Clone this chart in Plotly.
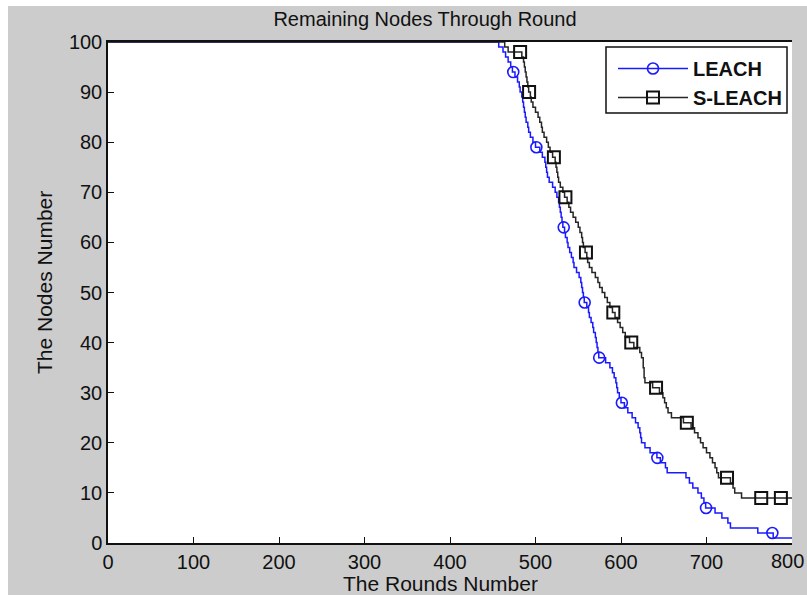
import plotly.graph_objects as go

# ---------------- data ----------------
leach_rounds = [0, 457, 462, 465, 468, 471, 473, 476, 479, 481, 482, 484, 485, 486, 487, 488, 489,
                491, 492, 494, 497, 500, 505, 508, 511, 512, 513, 514, 516, 520, 523, 525, 527,
                528, 529, 530, 531, 532, 534, 535, 537, 538, 540, 542, 544, 545, 548, 551, 553,
                554, 555, 556, 557, 560, 562, 563, 565, 567, 568, 570, 571, 572, 573, 574, 582,
                587, 590, 592, 594, 595, 596, 598, 600, 604, 608, 613, 617, 620, 622, 623, 624,
                628, 634, 642, 646, 652, 654, 676, 680, 684, 690, 694, 697, 699, 710, 718, 725,
                728, 760, 778, 800]
leach_nodes = [100, 99, 98, 97, 96, 95, 94, 93, 92, 91, 90, 89, 88, 87, 86, 85, 84,
               83, 82, 81, 80, 79, 78, 77, 76, 75, 74, 73, 72, 71, 70, 69, 68,
               67, 66, 65, 64, 63, 62, 61, 60, 59, 58, 57, 56, 55, 54, 53, 52,
               51, 50, 49, 48, 47, 46, 45, 44, 43, 42, 41, 40, 39, 38, 37, 36,
               35, 34, 33, 32, 31, 30, 29, 28, 27, 26, 25, 24, 23, 22, 21, 20,
               19, 18, 17, 16, 15, 14, 13, 12, 11, 10, 9, 8, 7, 6, 5, 4,
               3, 2, 1, 1]
leach_marker_rounds = [474, 501, 533, 557.5, 574.5, 601, 642.5, 699.5, 777]
leach_marker_nodes = [94, 79, 63, 48, 37, 28, 17, 7, 2]

sleach_rounds = [0, 464, 468, 484, 486, 487, 488, 489, 490, 491, 492, 494, 495, 497, 500, 503, 505,
                 507, 508, 510, 513, 515, 517, 520, 523, 524, 525, 526, 527, 529, 532, 534, 537,
                 539, 541, 544, 547, 550, 552, 554, 555, 556, 558, 560, 561, 563, 566, 570, 573,
                 575, 578, 581, 584, 587, 590, 593, 596, 599, 602, 605, 610, 615, 622, 624, 626,
                 626, 627, 627, 628, 637, 645, 649, 651, 653, 655, 659, 673, 682, 686, 690, 693,
                 696, 700, 704, 707, 710, 712, 714, 728, 731, 733, 741, 800]
sleach_nodes = [100, 99, 98, 97, 96, 95, 94, 93, 92, 91, 90, 89, 88, 87, 86, 85, 84,
                83, 82, 81, 80, 79, 78, 77, 76, 75, 74, 73, 72, 71, 70, 69, 68,
                67, 66, 65, 64, 63, 62, 61, 60, 59, 58, 57, 56, 55, 54, 53, 52,
                51, 50, 49, 48, 47, 46, 45, 44, 43, 42, 41, 40, 39, 38, 37, 36,
                35, 34, 33, 32, 31, 30, 29, 28, 27, 26, 25, 24, 23, 22, 21, 20,
                19, 18, 17, 16, 15, 14, 13, 12, 11, 10, 9, 9]
sleach_marker_rounds = [482, 492.5, 521.5, 535, 559, 591, 612, 641, 677, 724, 764, 787]
sleach_marker_nodes = [98, 90, 77, 69, 58, 46, 40, 31, 24, 13, 9, 9]

series_names = ["LEACH", "S-LEACH"]
x_ticks = [0, 100, 200, 300, 400, 500, 600, 700, 800]
y_ticks = [0, 10, 20, 30, 40, 50, 60, 70, 80, 90, 100]
chart_title = "Remaining Nodes Through Round"
x_title = "The Rounds Number"
y_title = "The Nodes Number"


def merge(rx, ry, mx, my):
    """Put the marker points into the step line; returns x, y and the indices of marker points."""
    pts = [(x, y, False) for x, y in zip(rx, ry)] + [(x, y, True) for x, y in zip(mx, my)]
    pts.sort(key=lambda p: (p[0], -p[1]))
    return ([p[0] for p in pts], [p[1] for p in pts], [i for i, p in enumerate(pts) if p[2]])


FONT = "Liberation Sans, Arial, sans-serif"
INK = "#111111"
BLUE = "#1a1aff"
fig = go.Figure()

lx, ly, lsel = merge(leach_rounds, leach_nodes, leach_marker_rounds, leach_marker_nodes)
fig.add_trace(go.Scatter(
    x=lx, y=ly, name=series_names[0], mode="lines+markers", line_shape="hv",
    line=dict(color=BLUE, width=1.5),
    marker=dict(symbol="circle-open", size=11, color=BLUE, opacity=1, line=dict(width=1.6)),
    selectedpoints=lsel, selected=dict(marker=dict(opacity=1)),
    unselected=dict(marker=dict(opacity=0)),
    legendgroup="a"))

sx, sy, ssel = merge(sleach_rounds, sleach_nodes, sleach_marker_rounds, sleach_marker_nodes)
fig.add_trace(go.Scatter(
    x=sx, y=sy, name=series_names[1], mode="lines+markers", line_shape="hv",
    line=dict(color="#262626", width=1.5),
    marker=dict(symbol="square-open", size=12, color=INK, opacity=1, line=dict(width=2)),
    selectedpoints=ssel, selected=dict(marker=dict(opacity=1)),
    unselected=dict(marker=dict(opacity=0)),
    legendgroup="b"))

# plot-area geometry in pixels: x 108..792, y 42..543 (page 807x595)
L, R, T, B = 108, 792, 42, 543
W, H = R - L, B - T
def px(v):
    return (v - L) / W
def py(v):
    return (B - v) / H

shapes = [
    dict(type="rect", xref="paper", yref="paper", x0=px(-2), x1=px(8), y0=py(600), y1=py(-2),
         fillcolor="white", line=dict(width=0), layer="above"),
    dict(type="rect", xref="paper", yref="paper", x0=px(-2), x1=px(812), y0=py(6), y1=py(-2),
         fillcolor="white", line=dict(width=0), layer="above"),
    dict(type="rect", xref="paper", yref="paper", x0=px(606), x1=px(787), y0=py(113), y1=py(47),
         fillcolor="white", line=dict(width=1.5, color=INK), layer="above"),
]

# last x tick label: kept whole by right-aligning it just inside the page edge
tick_text = [str(v) for v in x_ticks[:-1]] + [""]
annotations = [
    dict(text=x_title, xref="paper", yref="paper", x=px(440), y=py(583), xanchor="center",
         yanchor="middle", showarrow=False, font=dict(size=21, family=FONT, color=INK)),
    dict(text=y_title, xref="paper", yref="paper", x=px(44), y=py(283), xanchor="center",
         yanchor="middle", showarrow=False, textangle=-90, font=dict(size=21, family=FONT, color=INK)),
    dict(text=str(x_ticks[-1]), xref="x", yref="paper", x=x_ticks[-1], y=py(561), xanchor="right",
         yanchor="middle", xshift=14, showarrow=False, font=dict(size=20, family=FONT, color=INK)),
]

fig.update_layout(
    width=807, height=595,
    margin=dict(l=L, r=807 - R, t=T, b=595 - B, autoexpand=False),
    paper_bgcolor="#cccccc", plot_bgcolor="white",
    font=dict(family=FONT, color=INK, size=20),
    title=dict(text=chart_title, x=px(425), xref="paper", xanchor="center",
               y=1 - 19 / 595, yanchor="middle", font=dict(size=20, family=FONT, color=INK)),
    xaxis=dict(range=[0, 800], tickvals=x_ticks, ticktext=tick_text, ticks="inside", ticklen=6,
               tickwidth=1.3, tickcolor=INK, showline=True, linecolor=INK, linewidth=1.5, mirror=True,
               showgrid=False, zeroline=False, tickfont=dict(size=20), automargin=False),
    yaxis=dict(range=[0, 100], tickvals=y_ticks, ticks="inside", ticklen=6, tickwidth=1.3,
               tickcolor=INK, showline=True, linecolor=INK, linewidth=1.5,
               showgrid=False, zeroline=False, tickfont=dict(size=20), automargin=False,
               ticklabeloverflow="allow"),
    legend=dict(x=px(613), y=py(49), xanchor="left", yanchor="top", bgcolor="rgba(0,0,0,0)",
                borderwidth=0, font=dict(size=20, family=FONT, color=INK, weight="bold"),
                itemwidth=70, traceorder="grouped", tracegroupgap=0),
    shapes=shapes,
    annotations=annotations,
    showlegend=True,
)

fig.write_html("out.html")
